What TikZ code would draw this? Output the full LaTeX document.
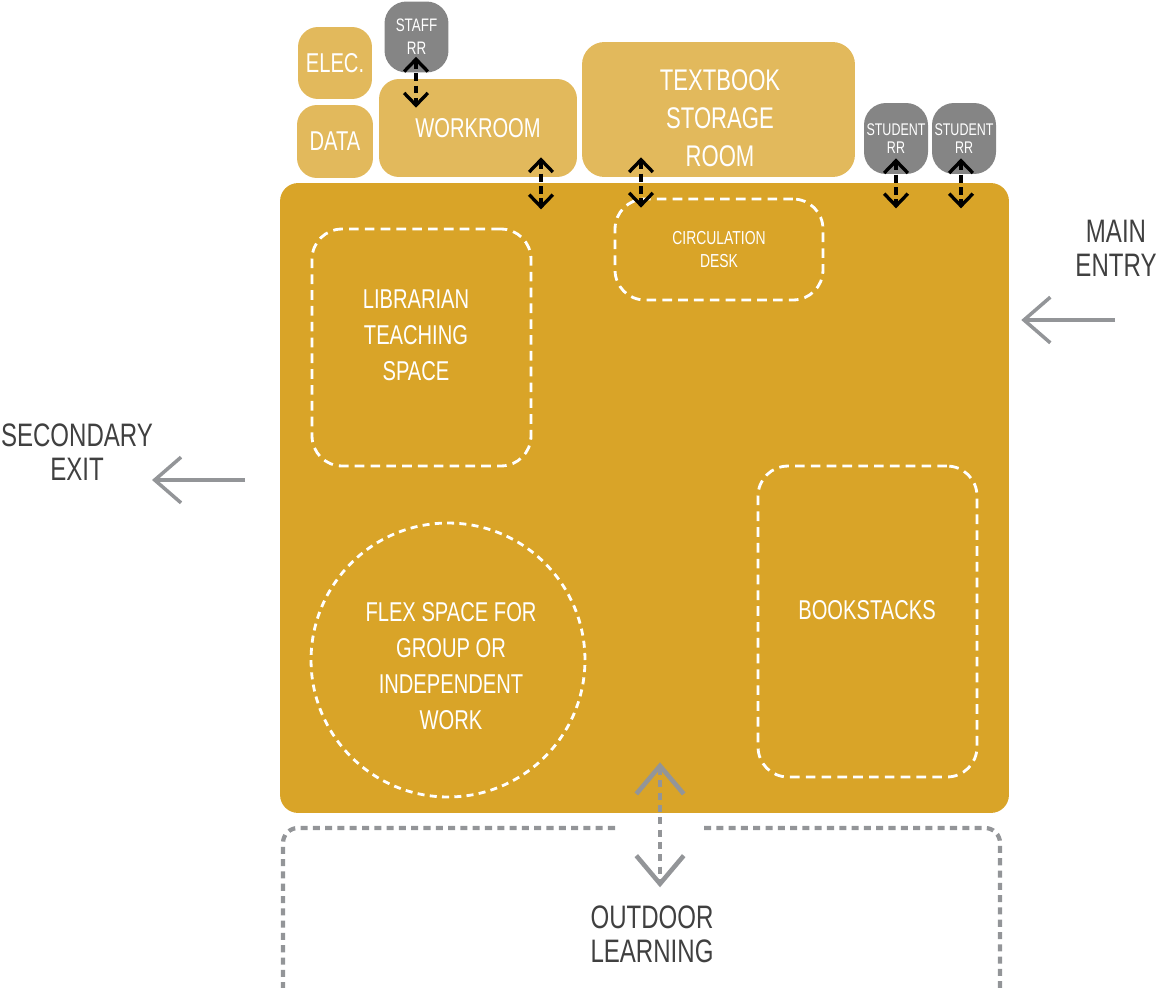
\documentclass[tikz,border=0pt]{standalone}
\usepackage{fontspec}
\setmainfont{Liberation Sans}[FakeStretch=0.74]
\usetikzlibrary{arrows.meta, calc}

\definecolor{libgold}{HTML}{D9A428}
\definecolor{roomgold}{HTML}{E2B95C}
\definecolor{rrgray}{HTML}{858585}
\definecolor{arrowgray}{HTML}{939598}
\definecolor{labelgray}{HTML}{404040}

\tikzset{
  floor/.style={fill=libgold, rounded corners=0.36cm, minimum width=14.58cm, minimum height=12.6cm},
  room/.style={fill=roomgold, rounded corners=0.4cm, text=white, inner sep=0pt, font=\fontsize{15.5}{20}\selectfont},
  restroom/.style={fill=rrgray, rounded corners=0.44cm, text=white, inner sep=0pt, minimum width=1.28cm, minimum height=1.42cm},
  zone/.style={draw=white, line width=1.6pt, dash pattern=on 5.5pt off 3.5pt, rounded corners=0.6cm, text=white},
  roomtext/.style={text=white, font=\fontsize{15.5}{20.5}\selectfont},
  sidetext/.style={text=labelgray, font=\fontsize{18.5}{19.5}\selectfont},
  rrlink/.style={black, line width=1.9pt, dash pattern=on 4.5pt off 2.5pt,
    {Straight Barb[length=7pt,width=13.5pt]}-{Straight Barb[length=7pt,width=13.5pt]}},
  doorlink/.style={arrowgray, line width=2.6pt, dash pattern=on 4pt off 3pt,
    {Straight Barb[length=16pt,width=27pt]}-{Straight Barb[length=16pt,width=27pt]}},
  exitarrow/.style={arrowgray, line width=2pt, -{Straight Barb[length=15pt,width=26pt]}},
  outdoor/.style={arrowgray, line width=2.4pt, dash pattern=on 4pt off 3pt, rounded corners=0.3cm}
}

\begin{document}
\begin{tikzpicture}[x=0.02cm, y=-0.02cm, align=center]
\useasboundingbox (0,0) rectangle (1156,987);

% library floor
\path (644.5,498) node[floor] (library) {};

% support rooms
\path (335,63) node[room, minimum width=1.48cm, minimum height=1.44cm] (elec) {ELEC.}
      (335,141.5) node[room, minimum width=1.52cm, minimum height=1.46cm] (data) {DATA}
      (478,128) node[room, minimum width=3.96cm, minimum height=1.96cm] (workroom) {WORKROOM}
      (718.5,109.5) node[room, rounded corners=0.45cm, minimum width=5.46cm, minimum height=2.7cm] (textbook) {};
\node[roomtext, font=\fontsize{17}{21.5}\selectfont] (textbooklbl) at (720,118) {TEXTBOOK\\STORAGE\\ROOM};

% restrooms
\path (416.5,37) node[restroom, font=\fontsize{10.3}{13}\selectfont] (staff) {STAFF\\RR}
      (896,138.5) node[restroom, font=\fontsize{9.6}{10}\selectfont] (student1) {STUDENT\\RR}
      (964,138.5) node[restroom, font=\fontsize{9.6}{10}\selectfont] (student2) {STUDENT\\RR};

% zones inside the library
\path (421.5,347.5) node[zone, minimum width=4.38cm, minimum height=4.74cm] (teaching) {}
      (719,249.5) node[zone, minimum width=4.16cm, minimum height=2.02cm, font=\fontsize{10.7}{13.6}\selectfont] (circulation) {CIRCULATION\\DESK}
      (867.5,621.5) node[zone, minimum width=4.38cm, minimum height=6.22cm] (bookstacks) {}
      (448,660) node[zone, circle, dash pattern=on 4pt off 3pt, minimum size=5.48cm] (flex) {};
\node[roomtext] (teachinglbl) at (416,335) {LIBRARIAN\\TEACHING\\SPACE};
\node[roomtext] (bookstackslbl) at (867,610) {BOOKSTACKS};
\node[roomtext] (flexlbl) at (451,666) {FLEX SPACE FOR\\GROUP OR\\INDEPENDENT\\WORK};

% outside
\node[sidetext] (entrylbl) at (1116,248) {MAIN\\ENTRY};
\node[sidetext] (exitlbl) at (77,452) {SECONDARY\\EXIT};
\node[sidetext] (outdoorlbl) at (652,934) {OUTDOOR\\LEARNING};
\draw[outdoor] (615,828) -- (283,828) -- (283,995);
\draw[outdoor] (704,828) -- (1000,828) -- (1000,995);

% doors
\draw[rrlink] ($(staff.south)+(-0.5,-16)$) -- ($(staff.south |- workroom.north)+(-0.5,29)$);
\draw[rrlink] ($(workroom.south)+(63,-20)$) -- ($(workroom.south)+(63,32)$);
\draw[rrlink] ($(textbook.south)+(-77.5,-20)$) -- ($(circulation.north)+(-78,10)$);
\draw[rrlink] ($(student1.south)+(0,-16)$) -- ($(student1.south)+(0,34)$);
\draw[rrlink] ($(student2.south)+(-3,-16)$) -- ($(student2.south)+(-3,34)$);
\draw[doorlink] ($(library.south)+(15.5,-51)$) -- ($(library.south)+(15.5,74)$);

% entry and exit
\coordinate (entry) at (1115,320);
\coordinate (exit) at (245,480);
\draw[exitarrow] (entry) -- ($(entry -| library.east)+(12,0)$);
\draw[exitarrow] (exit) -- ($(exit)+(-93,0)$);

\end{tikzpicture}
\end{document}
